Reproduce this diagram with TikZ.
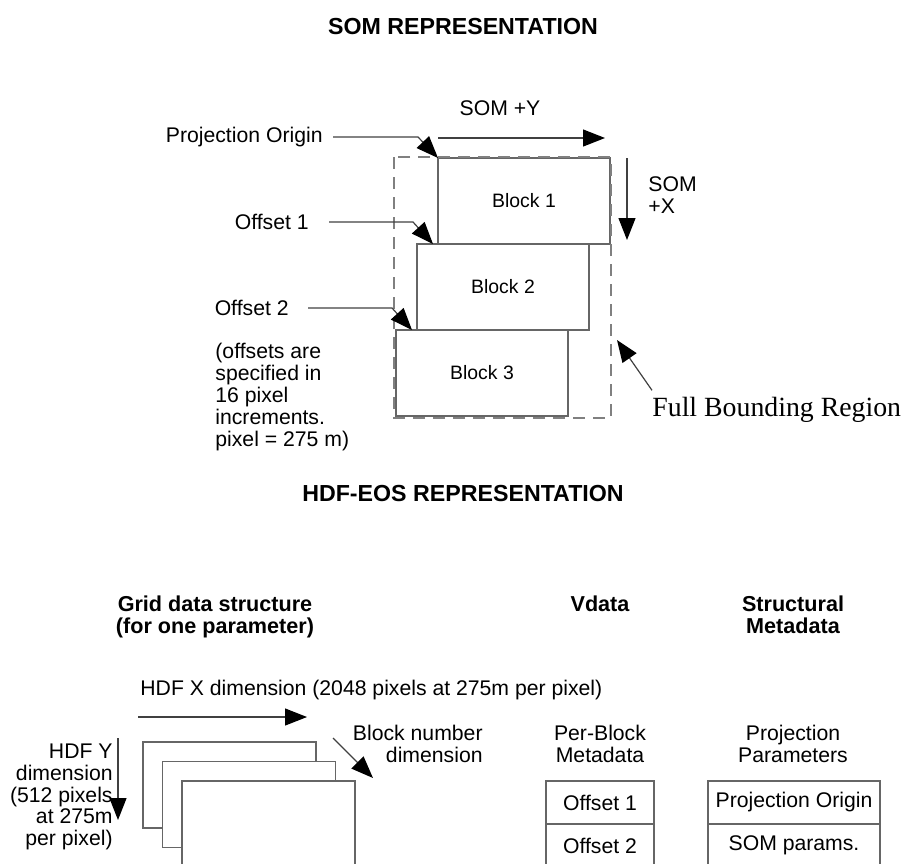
\documentclass[tikz,border=0pt]{standalone}
\usepackage{fontspec}
\setmainfont{Liberation Sans}
\newfontfamily\timesfont{Liberation Serif}
\usetikzlibrary{arrows.meta}
\usetikzlibrary{positioning}

\begin{document}
\begin{tikzpicture}[x=0.5pt, y=-0.5pt,
  txt/.style={inner sep=0, font=\fontsize{10.6}{10.9}\selectfont},
  head/.style={inner sep=0, anchor=north, align=center, font=\fontsize{10.8}{11}\selectfont\bfseries},
  title/.style={inner sep=0, font=\fontsize{11.6}{12}\selectfont\bfseries},
  block/.style={draw=black!60, line width=.75pt, fill=white, minimum width=86pt, minimum height=43pt,
    outer sep=0, inner sep=0, font=\fontsize{9.7}{10}\selectfont},
  cell/.style={block, minimum width=86pt, minimum height=21.5pt, font=\fontsize{10.6}{10.9}\selectfont},
  region/.style={draw=black!50, line width=.75pt, dash pattern=on 6pt off 4pt},
  ptr/.style={->, line width=.6pt, draw=black!75},
  >={Triangle[length=11pt,width=8.5pt,color=black]}]
\useasboundingbox (0,0) rectangle (914,863);
\clip (0,0) rectangle (914,863);

% SOM representation
\node[title] (somt) at (463,27) {SOM REPRESENTATION};
\node[block] (b1) at (524,201) {Block 1};
\node[block, anchor=north west] (b2) at ([xshift=-10.5pt]b1.south west) {Block 2};
\node[block, anchor=north west] (b3) at ([xshift=-10.5pt]b2.south west) {Block 3};
\draw[region] (394,157) rectangle (611,418);

\node[txt, anchor=east] (po) at (323,137) {Projection Origin};
\node[txt, anchor=east] (o1) at (309,222) {Offset 1};
\node[txt, anchor=east] (o2) at (289,308) {Offset 2};
\node[txt, anchor=west, align=left] (note) at (215,397)
  {(offsets are\\specified in\\16 pixel\\increments.\\pixel = 275 m)};

\coordinate (potip) at (b1.north west);
\coordinate (o1tip) at ([xshift=-2.5pt]b1.south west);
\coordinate (o2tip) at ([xshift=-2.5pt]b2.south west);
\coordinate (pobend) at ([xshift=-10pt]potip);
\coordinate (o1bend) at ([xshift=-10pt]o1tip);
\coordinate (o2bend) at ([xshift=-10pt]o2tip);
\draw[ptr] ([xshift=5pt]po.east) -- (pobend |- po.east) -- (potip);
\draw[ptr] ([xshift=10pt]o1.east) -- (o1bend |- o1.east) -- (o1tip);
\draw[ptr] ([xshift=9.5pt]o2.east) -- (o2bend |- o2.east) -- (o2tip);

\node[txt] (somy) at (500,108) {SOM +Y};
\coordinate (ya) at ([yshift=10pt]b1.north west);
\coordinate (yb) at ([yshift=10pt,xshift=-2.5pt]b1.north east);
\draw[ptr] (ya) -- (yb);
\node[txt, anchor=west, align=left] (somx) at (648,195) {SOM\\+X};
\coordinate (xa) at ([xshift=8.5pt]b1.north east);
\coordinate (xb) at ([xshift=8.5pt,yshift=2pt]b1.south east);
\draw[ptr] (xa) -- (xb);

\node[txt, font=\timesfont\fontsize{13.9}{14}\selectfont, anchor=base west] (fbr) at (652,416) {Full Bounding Region};
\coordinate (fbtip) at (617,340);
\draw[ptr] ([yshift=3pt]fbr.north west) -- (fbtip);

% HDF-EOS representation
\node[title] (hdft) at (463,493) {HDF-EOS REPRESENTATION};
\node[head] (grid) at (215,595) {Grid data structure\\(for one parameter)};
\node[head] (vd) at (600,595) {Vdata};
\node[head] (sm) at (793,595) {Structural\\Metadata};

\node[txt, anchor=west] (hdfx) at (140,690) {HDF X dimension (2048 pixels at 275m per pixel)};
\coordinate (hx1) at (138,717);
\coordinate (hx2) at (307,717);
\draw[ptr] (hx1) -- (hx2);

\foreach \i in {1,2,3}
  \node[block, anchor=north west, minimum width=86.5pt] (sheet\i) at ({143+19.5*(\i-1)},{742+19.5*(\i-1)}) {};

\node[txt, anchor=east, align=right] (bnum) at (483,744) {Block number\\dimension};
\coordinate (bn1) at (333,738);
\coordinate (bn2) at (373,778);
\draw[ptr] (bn1) -- (bn2);

\node[txt, anchor=east, align=right] (hdfy) at (113,797) {HDF Y\\dimension\\(512 pixels\\at 275m\\per pixel)};
\coordinate (hy1) at (118,738);
\coordinate (hy2) at (118,820);
\draw[ptr] (hy1) -- (hy2);

\node[txt, anchor=north, align=center] (pbm) at (600,724.5) {Per-Block\\Metadata};
\node[txt, anchor=north, align=center] (ppar) at (793,724.5) {Projection\\Parameters};

\node[cell, minimum width=54pt] (vd1) at (600,802.5) {Offset 1};
\node[cell, minimum width=54pt, below=0pt of vd1] (vd2) {Offset 2};
\node[cell] (pp1) at (794,802.5) {Projection Origin};
\node[cell, below=0pt of pp1] (pp2) {SOM params.};
\end{tikzpicture}
\end{document}
